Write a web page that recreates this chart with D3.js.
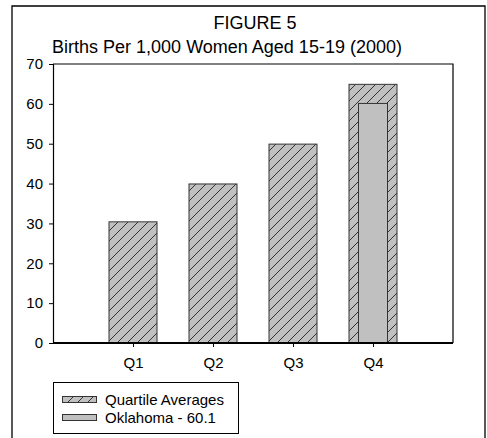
<!DOCTYPE html>
<html><head><meta charset="utf-8">
<script src="https://cdn.jsdelivr.net/npm/d3@7"></script>
<style>body{margin:0;background:#fff}svg{display:block;font-family:"Liberation Sans",Arial,sans-serif}</style>
</head><body>
<script>
const categories = ["Q1","Q2","Q3","Q4"];
const quartileAverages = [30.4, 39.9, 49.9, 64.9];
const oklahomaCategory = "Q4";
const oklahomaValue = 60.1;
const yTicks = [0,10,20,30,40,50,60,70];
const titleLines = ["FIGURE 5", "Births Per 1,000 Women Aged 15-19 (2000)"];
const legendLabels = ["Quartile Averages", "Oklahoma - 60.1"];

(function(){
const W = 487, H = 438;
const svg = d3.select("body").append("svg").attr("width", W).attr("height", H);

const defs = svg.append("defs");
const pat = defs.append("pattern").attr("id","hatch").attr("patternUnits","userSpaceOnUse")
  .attr("width",10).attr("height",10);
pat.append("rect").attr("width",10).attr("height",10).attr("fill","#c0c0c0");
pat.append("path").attr("d","M-1,11 L11,-1 M-6,6 L6,-6 M4,16 L16,4").attr("stroke","#222").attr("stroke-width",0.9);

// outer frame
svg.append("path").attr("d","M12,438 L12,6 L485,6 L485,438").attr("fill","none").attr("stroke","#000").attr("stroke-width",1.3);

const pL = 53, pR = 453, pT = 64, pB = 343;
const x = d3.scalePoint().domain(categories).range([pL, pR]).padding(1);
const y = d3.scaleLinear().domain([0,70]).range([pB, pT]);
const bw = 48, iw = 29;

// plot frame (top/right)
svg.append("path").attr("d",`M${pL},${pT} L${pR},${pT} L${pR},${pB}`).attr("fill","none").attr("stroke","#000").attr("stroke-width",1.2);

// bars
svg.selectAll("rect.q").data(categories).enter().append("rect").attr("class","q")
  .attr("x", d => x(d) - bw/2).attr("width", bw)
  .attr("y", (d,i) => y(quartileAverages[i])).attr("height", (d,i) => y(0) - y(quartileAverages[i]))
  .attr("fill","url(#hatch)").attr("stroke","#333").attr("stroke-width",1);
svg.append("rect").attr("x", x(oklahomaCategory) - iw/2).attr("width", iw)
  .attr("y", y(oklahomaValue)).attr("height", y(0) - y(oklahomaValue))
  .attr("fill","#c0c0c0").attr("stroke","#333").attr("stroke-width",1);

// axes
const ya = svg.append("g").attr("transform",`translate(${pL},0)`)
  .call(d3.axisLeft(y).tickValues(yTicks).tickSize(4).tickPadding(6));
const xa = svg.append("g").attr("transform",`translate(0,${pB})`)
  .call(d3.axisBottom(x).tickSize(4).tickPadding(10));
xa.select(".domain").attr("d",`M${pL},0 L${pR},0`).attr("stroke-width",2);
[ya, xa].forEach(g => {
  g.selectAll("text").attr("font-size",15).attr("fill","#000").attr("font-family","Liberation Sans, Arial, sans-serif");
  g.selectAll("line").attr("stroke","#000");
  g.select(".domain").attr("stroke","#000");
});
ya.select(".domain").attr("stroke-width",1.2);

// title
svg.append("text").attr("x",255).attr("y",29).attr("text-anchor","middle").attr("font-size",18).text(titleLines[0]);
svg.append("text").attr("x",227).attr("y",53).attr("text-anchor","middle").attr("font-size",18).text(titleLines[1]);

// legend
svg.append("rect").attr("x",53.5).attr("y",382.5).attr("width",185).attr("height",51).attr("fill","#fff").attr("stroke","#000");
svg.append("rect").attr("x",62.5).attr("y",396.5).attr("width",34).attr("height",6).attr("fill","url(#hatch)").attr("stroke","#333");
svg.append("rect").attr("x",62.5).attr("y",414.5).attr("width",34).attr("height",6).attr("fill","#c0c0c0").attr("stroke","#333");
svg.selectAll("text.leg").data(legendLabels).enter().append("text").attr("class","leg")
  .attr("x",105).attr("y",(d,i)=>405+i*18).attr("font-size",15).text(d=>d);
})();
</script>
</body></html>
